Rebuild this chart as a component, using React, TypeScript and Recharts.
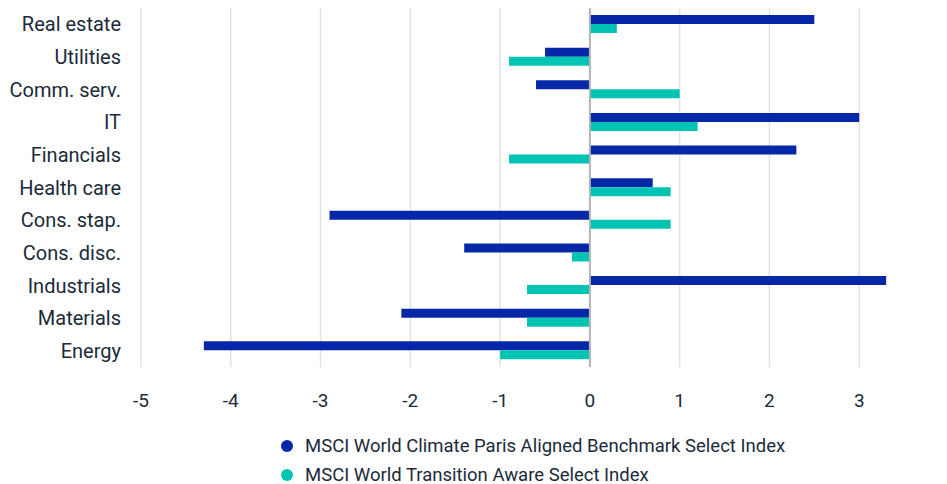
import {
  BarChart,
  Bar,
  XAxis,
  YAxis,
  CartesianGrid,
  ReferenceLine,
} from "recharts";

const sectors = [
  "Real estate",
  "Utilities",
  "Comm. serv.",
  "IT",
  "Financials",
  "Health care",
  "Cons. stap.",
  "Cons. disc.",
  "Industrials",
  "Materials",
  "Energy",
];
const parisAligned = [2.5, -0.5, -0.6, 3.0, 2.3, 0.7, -2.9, -1.4, 3.3, -2.1, -4.3];
const transitionAware = [0.3, -0.9, 1.0, 1.2, -0.9, 0.9, 0.9, -0.2, -0.7, -0.7, -1.0];
const xTicks = [-5, -4, -3, -2, -1, 0, 1, 2, 3, 4];

const seriesNames = [
  "MSCI World Climate Paris Aligned Benchmark Select Index",
  "MSCI World Transition Aware Select Index",
];
const colors = ["#0627A8", "#00C4B3"];
const textColor = "#1B2A3A";

const data = sectors.map((name, i) => ({
  name,
  pab: parisAligned[i],
  tas: transitionAware[i],
}));

const App = () => {
  return (
    <div
      style={{
        position: "relative",
        width: 939,
        height: 476,
        overflowX: "clip",
        overflowY: "visible",
        fontFamily: "Roboto, sans-serif",
      }}
    >
      <BarChart
        width={980}
        height={410}
        layout="vertical"
        data={data}
        margin={{ top: 0, right: 39, left: 0, bottom: 0 }}
        barSize={9}
        barGap={0}
      >
        <CartesianGrid horizontal={false} stroke="#e2e2e2" strokeWidth={1.5} />
        <XAxis
          type="number"
          domain={[-5, 4]}
          ticks={xTicks}
          axisLine={false}
          tickLine={false}
          tickMargin={21}
          height={51}
          tick={{ fontSize: 19, fill: textColor }}
        />
        <YAxis
          type="category"
          dataKey="name"
          width={133}
          axisLine={false}
          tickLine={false}
          tickMargin={14}
          tick={{ fontSize: 20, fill: textColor }}
        />
        <ReferenceLine x={0} stroke="#b4b4b4" strokeWidth={2} />
        <Bar dataKey="pab" fill={colors[0]} isAnimationActive={false} />
        <Bar dataKey="tas" fill={colors[1]} isAnimationActive={false} />
      </BarChart>
      <div
        style={{
          position: "absolute",
          left: 273,
          top: 429,
          fontSize: 18.5,
          color: textColor,
        }}
      >
        {seriesNames.map((s, i) => (
          <div
            key={s}
            style={{
              display: "flex",
              alignItems: "center",
              height: 18,
              lineHeight: "18px",
              marginBottom: i === 0 ? 11 : 0,
              whiteSpace: "nowrap",
            }}
          >
            <span
              style={{
                width: 12,
                height: 12,
                borderRadius: "50%",
                background: colors[i],
                marginRight: 12,
                display: "inline-block",
                flexShrink: 0,
              }}
            />
            <span>{s}</span>
          </div>
        ))}
      </div>
    </div>
  );
};

export default App;
